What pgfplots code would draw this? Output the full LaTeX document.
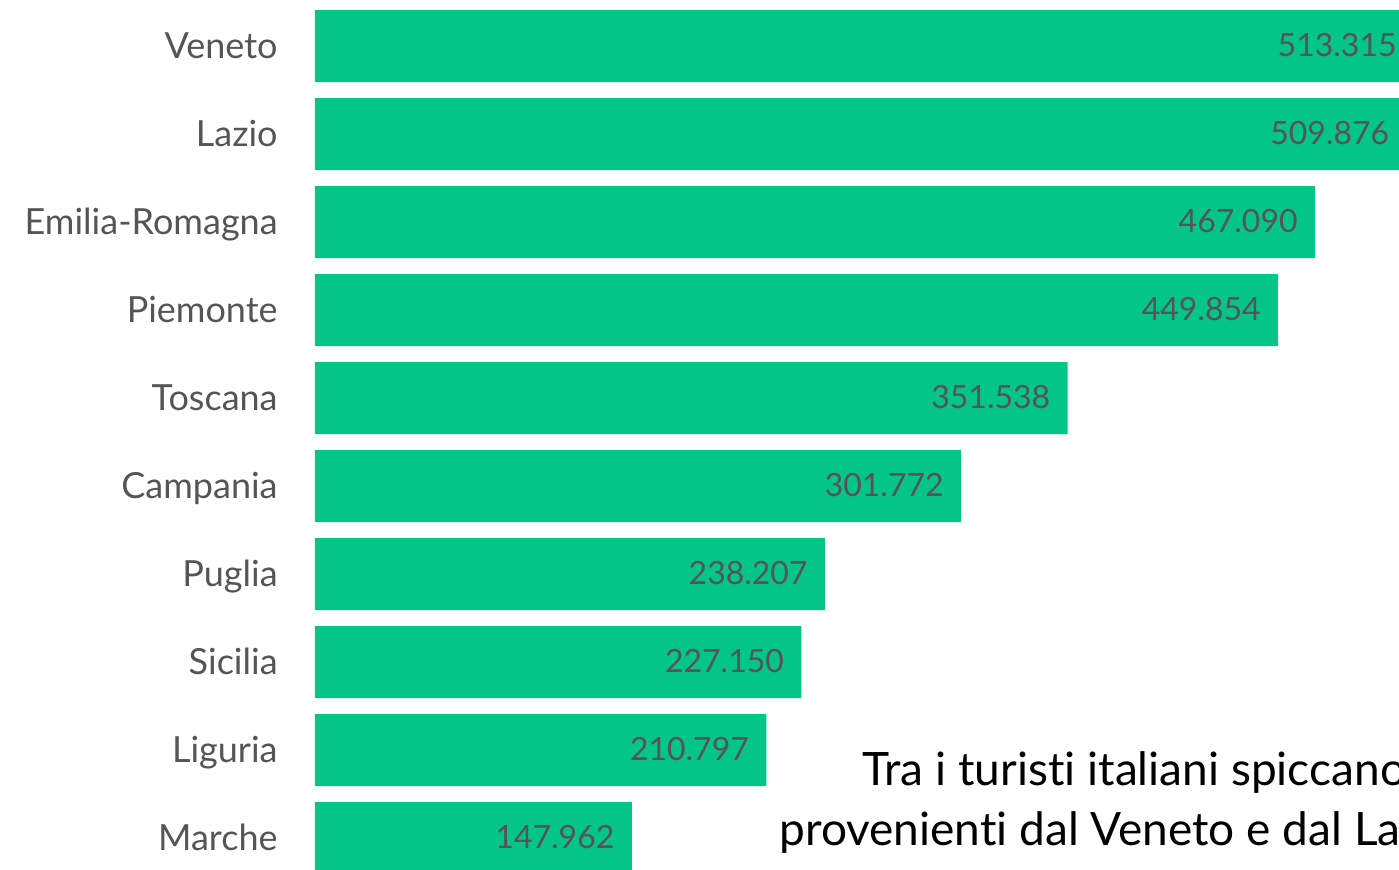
\documentclass[border=0pt]{standalone}
\usepackage{fontspec}
\setmainfont{Lato}[Ligatures=NoCommon]
\usepackage{pgfplots}
\pgfplotsset{compat=1.18}
\definecolor{barverde}{RGB}{2,197,135}
\definecolor{grigio}{RGB}{85,85,85}
\begin{document}
\begin{tikzpicture}
  % frame of the picture: 1399 x 869 px at 0.5pt per px
  \path[use as bounding box, clip] (0,0) rectangle (699.5pt,434.5pt);
  \begin{axis}[
      at={(157.5pt,0pt)}, anchor=south west,
      scale only axis,
      width=542pt, height=434.5pt,
      clip=false,
      xbar, bar width=0.818,
      xmin=0, xmax=506.3,
      ymin=-0.352, ymax=9.523,
      hide x axis,
      axis y line*=left,
      y axis line style={draw=none},
      major tick length=0pt,
      ytick={0,...,9},
      yticklabels={Marche,Liguria,Sicilia,Puglia,Campania,Toscana,Piemonte,Emilia-Romagna,Lazio,Veneto},
      yticklabel style={font=\fontsize{18}{20}\selectfont, text=grigio,
        anchor=base east, inner sep=0pt, xshift=-18.5pt, yshift=-6pt},
      point meta=explicit symbolic,
      nodes near coords,
      nodes near coords style={font=\fontsize{16}{18}\selectfont, text=grigio,
        anchor=base east, inner sep=0pt, xshift=-8.5pt, yshift=-5pt},
    ]
    \addplot[fill=barverde, draw=none] coordinates {
      (147.962,0) [147.962]
      (210.797,1) [210.797]
      (227.150,2) [227.150]
      (238.207,3) [238.207]
      (301.772,4) [301.772]
      (351.538,5) [351.538]
      (449.854,6) [449.854]
      (467.090,7) [467.090]
      (509.876,8) [509.876]
      (513.315,9) [513.315]
    };
  \end{axis}
  \node[anchor=base west, inner sep=0pt, font=\fontsize{23}{30}\selectfont]
    at (431pt,42pt) {Tra i turisti italiani spiccano};
  \node[anchor=base west, inner sep=0pt, font=\fontsize{23}{30}\selectfont]
    at (389.5pt,12pt) {provenienti dal Veneto e dal Lazio};
\end{tikzpicture}
\end{document}
